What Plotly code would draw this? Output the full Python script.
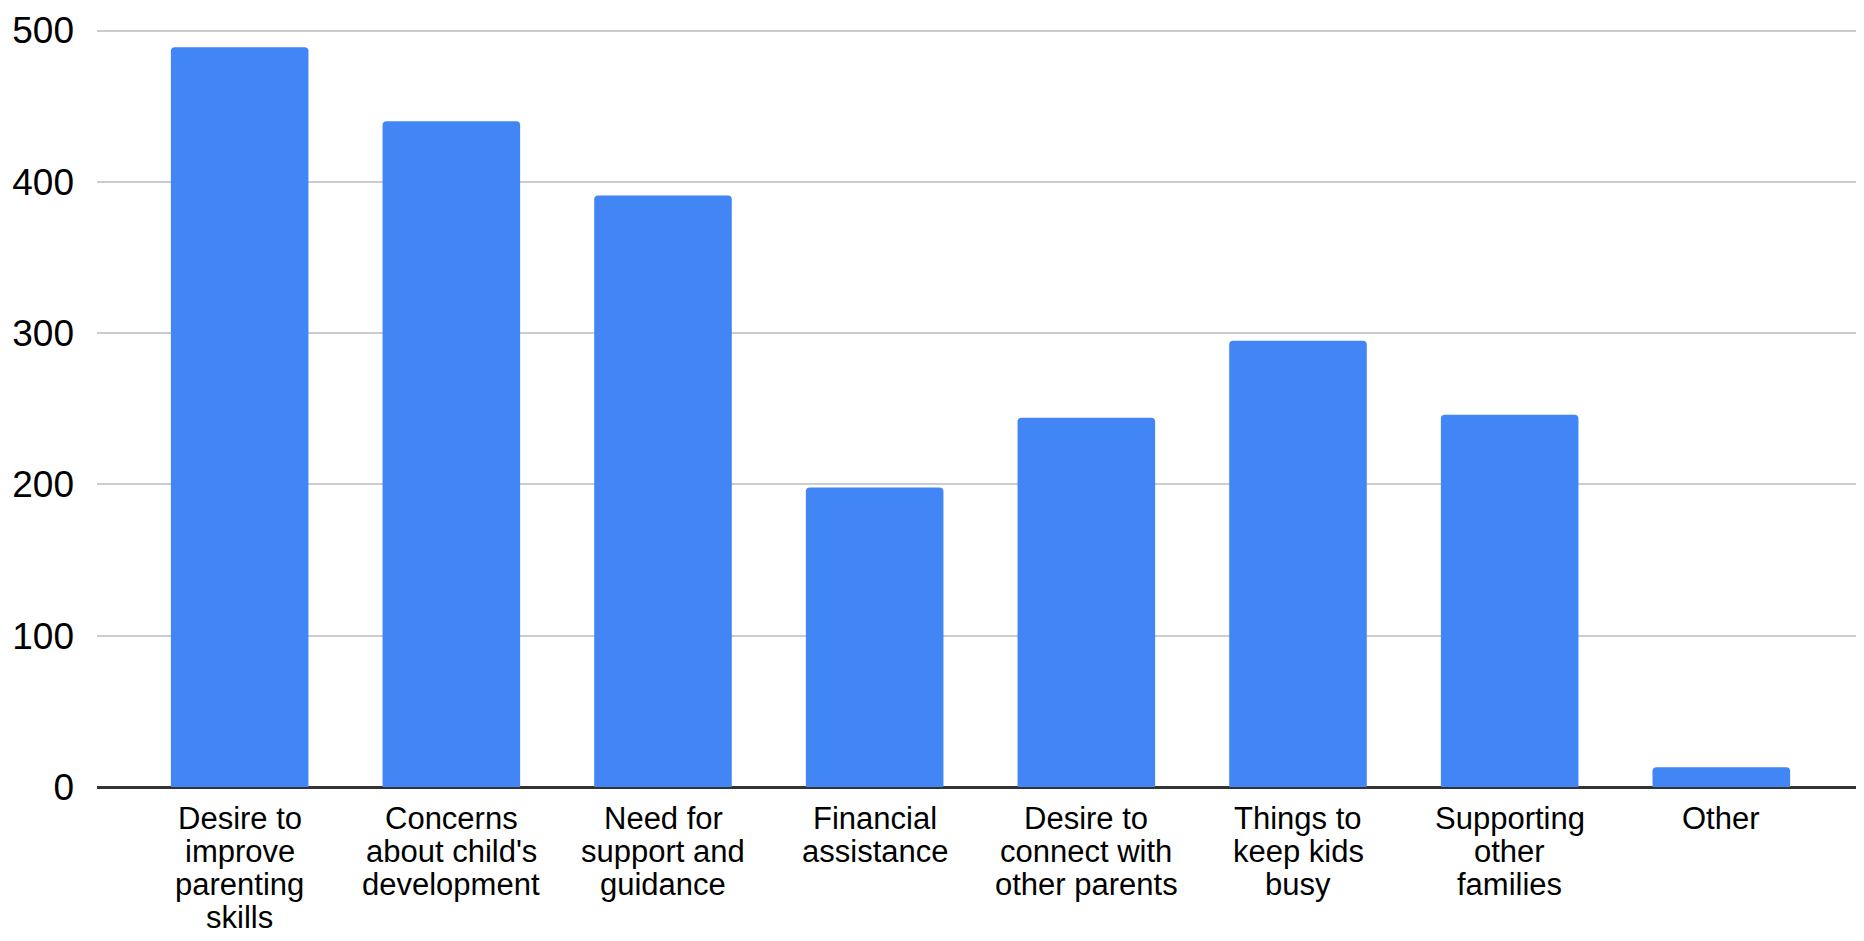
import plotly.graph_objects as go

categories = [
    "Desire to<br>improve<br>parenting<br>skills",
    "Concerns<br>about child's<br>development",
    "Need for<br>support and<br>guidance",
    "Financial<br>assistance",
    "Desire to<br>connect with<br>other parents",
    "Things to<br>keep kids<br>busy",
    "Supporting<br>other<br>families",
    "Other",
]
values = [489, 440, 391, 198, 244, 295, 246, 13]
y_ticks = [0, 100, 200, 300, 400, 500]

fig = go.Figure(go.Bar(
    x=list(range(len(categories))), y=values,
    marker=dict(color="#4285F4", line=dict(width=0)),
    width=0.65,
))

# category labels, one annotation per line for tight line spacing
for i, cat in enumerate(categories):
    for j, line in enumerate(cat.split("<br>")):
        fig.add_annotation(
            x=i, y=0, xref="x", yref="y", text=line, showarrow=False,
            xanchor="center", yanchor="top", yshift=-12 - j * 33,
            font=dict(size=31, color="#000000"),
        )

fig.update_layout(
    width=1856, height=933,
    margin=dict(l=89, r=0, t=18, b=154),
    paper_bgcolor="white", plot_bgcolor="white",
    font=dict(family="Liberation Sans, Arial, sans-serif", color="#000000"),
    barcornerradius=4,
    showlegend=False,
)
fig.update_xaxes(
    range=[-0.674, 7.674],
    tickmode="array", tickvals=list(range(len(categories))), ticktext=[""] * len(categories),
    showgrid=False, ticks="", showline=False, zeroline=False,
)
fig.update_yaxes(
    range=[0, 503], tickvals=y_ticks, tickfont=dict(size=37),
    showgrid=True, gridcolor="#cccccc", gridwidth=2,
    zeroline=True, zerolinecolor="#333333", zerolinewidth=3,
    ticks="", ticklabelstandoff=22, showline=False,
)
fig.write_html("out.html")
